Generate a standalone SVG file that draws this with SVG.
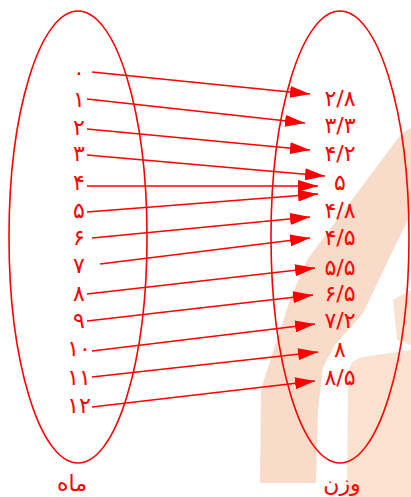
<svg xmlns="http://www.w3.org/2000/svg" width="411" height="497" viewBox="0 0 411 497">
<defs>
<style>
.ell{fill:none;stroke:#ff0000;stroke-width:1.6}
.t{font-family:"DejaVu Sans","Noto Sans",sans-serif;font-size:22px;fill:#ff0000;text-anchor:middle}
.c line{stroke:#ff0000;stroke-width:1.6;marker-end:url(#ah)}
</style>
<marker id="ah" viewBox="0 0 20 12" refX="20" refY="6" markerWidth="20" markerHeight="12" markerUnits="userSpaceOnUse" orient="auto">
<path d="M0,0 L20,6 L0,12 Z" fill="#ff0000"/>
</marker>
</defs>
<rect width="411" height="497" fill="#ffffff"/>
<g id="watermark">
<polygon fill="#f9dbc9" points="402,133 411,128 411,213 363,313 335,345 323,367 318,410 316,483 260,483 261,390 263,383 290,300 307,260"/>
<polygon fill="#fbe2d0" points="348,372 352,362 362,357 411,350 411,497 347,497"/>
<polygon fill="#fbe2d0" points="393,300 411,290 411,345 397,340"/>
</g>
<g id="set-month">
<ellipse class="ell" cx="78" cy="237" rx="69" ry="226"/>
<text class="t" x="72" y="491">ماه</text>
</g>
<g id="set-weight">
<ellipse class="ell" cx="340" cy="237" rx="69" ry="226"/>
<text class="t" x="342" y="491">وزن</text>
</g>
<g id="months">
<text class="t" x="79" y="80">۰</text>
<text class="t" x="79" y="107">۱</text>
<text class="t" x="79" y="135">۲</text>
<text class="t" x="79" y="161">۳</text>
<text class="t" x="79" y="190">۴</text>
<text class="t" x="79" y="218">۵</text>
<text class="t" x="79" y="245">۶</text>
<text class="t" x="79" y="273">۷</text>
<text class="t" x="79" y="301">۸</text>
<text class="t" x="79" y="328">۹</text>
<text class="t" x="79" y="356">۱۰</text>
<text class="t" x="79" y="385">۱۱</text>
<text class="t" x="79" y="413">۱۲</text>
</g>
<g id="weights">
<text class="t" x="340" y="106">۲/۸</text>
<text class="t" x="340" y="133">۳/۳</text>
<text class="t" x="340" y="161">۴/۲</text>
<text class="t" x="340" y="190">۵</text>
<text class="t" x="340" y="218">۴/۸</text>
<text class="t" x="340" y="245">۴/۵</text>
<text class="t" x="340" y="275">۵/۵</text>
<text class="t" x="340" y="301">۶/۵</text>
<text class="t" x="340" y="328">۷/۲</text>
<text class="t" x="340" y="357">۸</text>
<text class="t" x="340" y="385">۸/۵</text>
</g>
<g id="connectors" class="c">
<line x1="92" y1="72" x2="310" y2="94"/>
<line x1="87" y1="99" x2="305" y2="123"/>
<line x1="87" y1="129" x2="310" y2="150"/>
<line x1="87" y1="155" x2="325" y2="176"/>
<line x1="87" y1="186" x2="318" y2="186"/>
<line x1="87" y1="212" x2="318" y2="194"/>
<line x1="92" y1="238" x2="310" y2="217"/>
<line x1="100" y1="264" x2="310" y2="238"/>
<line x1="87" y1="294" x2="315" y2="268"/>
<line x1="87" y1="321" x2="313" y2="295"/>
<line x1="92" y1="351" x2="315" y2="324"/>
<line x1="92" y1="377" x2="318" y2="352"/>
<line x1="92" y1="407" x2="315" y2="381"/>
</g>
</svg>
